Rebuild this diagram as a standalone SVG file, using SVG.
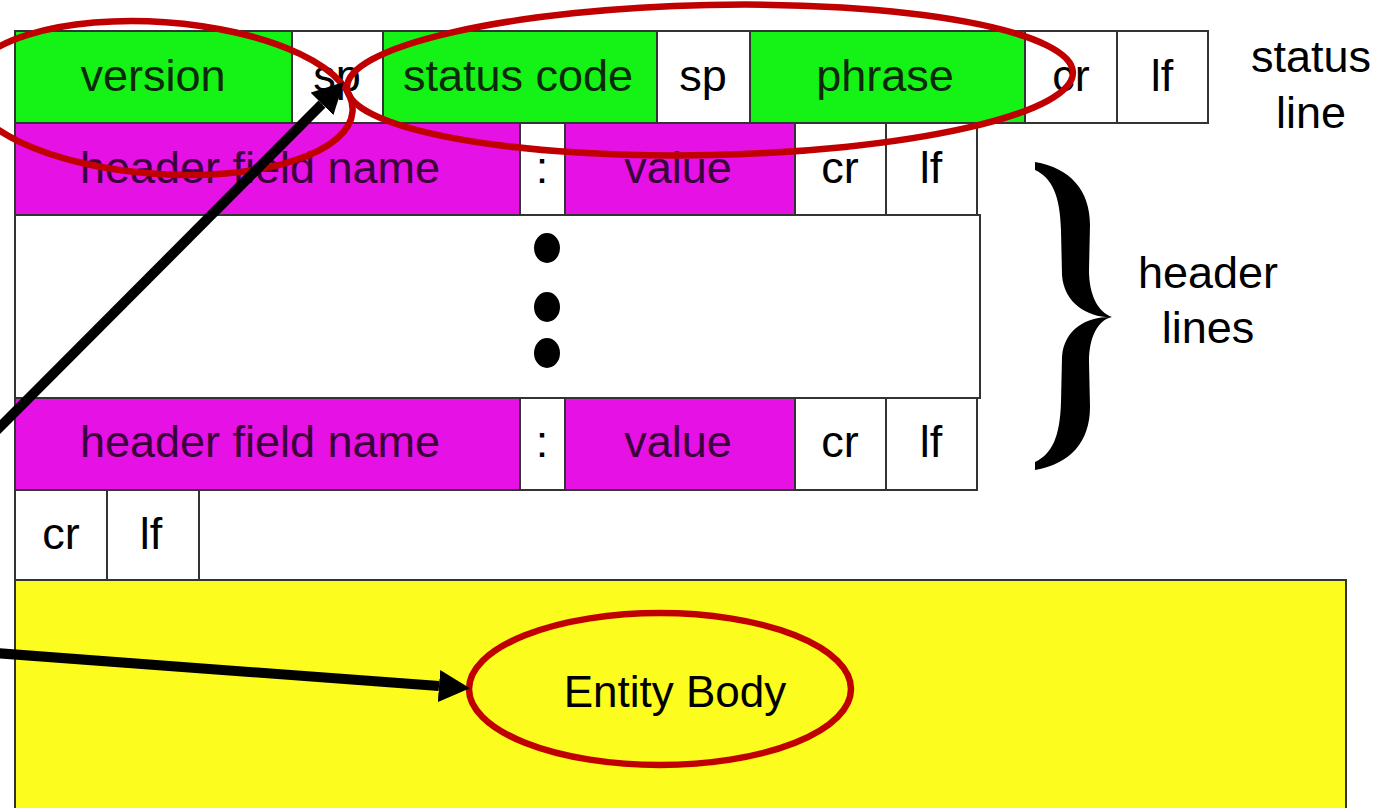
<svg xmlns="http://www.w3.org/2000/svg" width="1385" height="808" viewBox="0 0 1385 808">
<defs>
<marker id="ah" markerUnits="userSpaceOnUse" markerWidth="32" markerHeight="32" refX="0" refY="16" orient="auto">
<path d="M0,0 L31,16 L0,32 Z" fill="#000"/>
</marker>
</defs>
<style>
.cell{stroke:#333;stroke-width:2}
.g{fill:#15F215}
.m{fill:#E511E5}
.w{fill:#fff}
.y{fill:#FCFC1E}
text{font-family:"Liberation Sans",Arial,sans-serif;font-size:45px;text-anchor:middle}
.tg{fill:#0b2a0b}
.tm{fill:#3a003a}
.tb{fill:#000}
.ring{fill:none;stroke:#C00000;stroke-width:6.5}
.conn{fill:none;stroke:#000;stroke-width:10}
</style>
<rect width="1385" height="808" fill="#fff"/>

<g id="entity-body">
<rect class="cell y" x="15" y="580" width="1331" height="240"/>
<text class="tb" x="675" y="707" style="font-size:44px">Entity Body</text>
</g>

<g id="status-line">
<rect class="cell g" x="15" y="31" width="277" height="92"/>
<text class="tg" x="153" y="91">version</text>
<rect class="cell w" x="292" y="31" width="91" height="92"/>
<text class="tb" x="337" y="91">sp</text>
<rect class="cell g" x="383" y="31" width="274" height="92"/>
<text class="tg" x="518" y="91">status code</text>
<rect class="cell w" x="657" y="31" width="93" height="92"/>
<text class="tb" x="703" y="91">sp</text>
<rect class="cell g" x="750" y="31" width="275" height="92"/>
<text class="tg" x="885" y="91">phrase</text>
<rect class="cell w" x="1025" y="31" width="92" height="92"/>
<text class="tb" x="1071" y="91">cr</text>
<rect class="cell w" x="1117" y="31" width="91" height="92"/>
<text class="tb" x="1162" y="91">lf</text>
</g>

<g id="header-line-1">
<rect class="cell m" x="15" y="123" width="505" height="92"/>
<text class="tm" x="260" y="183">header field name</text>
<rect class="cell w" x="520" y="123" width="45" height="92"/>
<text class="tb" x="542" y="183">:</text>
<rect class="cell m" x="565" y="123" width="230" height="92"/>
<text class="tm" x="678" y="183">value</text>
<rect class="cell w" x="795" y="123" width="91" height="92"/>
<text class="tb" x="840" y="183">cr</text>
<rect class="cell w" x="886" y="123" width="91" height="92"/>
<text class="tb" x="931" y="183">lf</text>
</g>

<g id="ellipsis">
<rect class="cell w" x="15" y="215" width="965" height="183"/>
<ellipse cx="547" cy="248" rx="13" ry="15" fill="#000"/>
<ellipse cx="547" cy="307" rx="13" ry="15" fill="#000"/>
<ellipse cx="547" cy="353" rx="13" ry="15" fill="#000"/>
</g>

<g id="header-line-n">
<rect class="cell m" x="15" y="398" width="505" height="92"/>
<text class="tm" x="260" y="457">header field name</text>
<rect class="cell w" x="520" y="398" width="45" height="92"/>
<text class="tb" x="542" y="457">:</text>
<rect class="cell m" x="565" y="398" width="230" height="92"/>
<text class="tm" x="678" y="457">value</text>
<rect class="cell w" x="795" y="398" width="91" height="92"/>
<text class="tb" x="840" y="457">cr</text>
<rect class="cell w" x="886" y="398" width="91" height="92"/>
<text class="tb" x="931" y="457">lf</text>
</g>

<g id="blank-line">
<rect class="cell w" x="15" y="490" width="92" height="90"/>
<text class="tb" x="61" y="549">cr</text>
<rect class="cell w" x="107" y="490" width="92" height="90"/>
<text class="tb" x="151" y="549">lf</text>
</g>

<g id="status-line-label">
<text class="tb" x="1311" y="72">status</text>
<text class="tb" x="1311" y="128">line</text>
</g>

<g id="header-lines-label">
<path d="M1035,162 C1070,168 1090,190 1090,225 L1089,270 C1089,295 1098,312 1112,317 C1090,318 1064,305 1062,275 L1061,230 C1060,195 1052,178 1035,170 Z" fill="#000"/>
<path d="M1035,470 C1070,464 1090,442 1090,407 L1089,362 C1089,337 1098,320 1112,317 C1090,316 1064,327 1062,357 L1061,402 C1060,437 1052,454 1035,462 Z" fill="#000"/>
<text class="tb" x="1208" y="288">header</text>
<text class="tb" x="1208" y="343">lines</text>
</g>

<g id="highlights">
<ellipse class="ring" cx="160" cy="98" rx="193" ry="76" transform="rotate(4 160 98)"/>
<ellipse class="ring" cx="710" cy="80" rx="363" ry="75" transform="rotate(-1.2 710 80)"/>
<ellipse class="ring" cx="660" cy="689" rx="191" ry="76"/>
</g>

<g id="connectors">
<line class="conn" x1="-5" y1="432" x2="322" y2="104" marker-end="url(#ah)"/>
<line class="conn" x1="-5" y1="653" x2="439" y2="686" marker-end="url(#ah)"/>
</g>
</svg>
